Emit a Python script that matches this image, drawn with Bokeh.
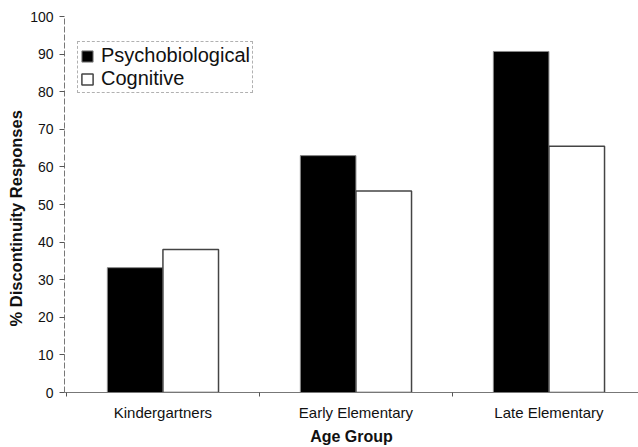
from bokeh.plotting import figure
from bokeh.models import Range1d, FixedTicker, Legend, LegendItem, Title
from bokeh.embed import file_html
from bokeh.resources import INLINE

groups = ["Kindergartners", "Early Elementary", "Late Elementary"]
series = ["Psychobiological", "Cognitive"]
psychobiological = [33.2, 63.0, 90.7]
cognitive = [38.0, 53.6, 65.5]
y_ticks = [0, 10, 20, 30, 40, 50, 60, 70, 80, 90, 100]

centers = [i + 0.5 for i in range(len(groups))]
bw = 0.288

p = figure(width=638, height=447, output_backend="svg", toolbar_location=None,
           x_range=Range1d(-0.01, 2.964), y_range=Range1d(0, 100),
           min_border_left=64, min_border_right=0, min_border_top=16, min_border_bottom=54)
p.outline_line_color = None
p.grid.grid_line_color = None
p.background_fill_color = "white"

r1 = p.vbar(x=[c - bw / 2 for c in centers], top=psychobiological, width=bw,
            fill_color="black", line_color="#888888", line_width=1)
r2 = p.vbar(x=[c + bw / 2 for c in centers], top=cognitive, width=bw,
            fill_color="white", line_color="#444444", line_width=1.5)

# y axis
ya = p.yaxis[0]
ya.ticker = FixedTicker(ticks=y_ticks)
ya.minor_tick_line_color = None
ya.major_tick_out = 5
ya.major_tick_in = 0
ya.axis_line_color = "#777777"
ya.axis_line_dash = "6 2"
ya.major_tick_line_color = "#555555"
ya.major_label_text_font = "Liberation Sans"
ya.major_label_text_font_size = "14px"
ya.major_label_text_color = "#111111"
ya.major_label_standoff = 6

ytitle = Title(text="% Discontinuity Responses", align="left", offset=66,
               text_font="Liberation Sans", text_font_style="bold",
               text_font_size="16.5px", text_color="#111111", standoff=5)
p.add_layout(ytitle, "left")

# x axis
xa = p.xaxis[0]
xa.ticker = FixedTicker(ticks=centers, minor_ticks=[0, 1, 2, 3])
xa.major_label_overrides = {c: g for c, g in zip(centers, groups)}
xa.major_tick_line_color = None
xa.major_tick_out = 0
xa.major_tick_in = 0
xa.minor_tick_out = 4
xa.minor_tick_in = 0
xa.minor_tick_line_color = "#555555"
xa.axis_line_color = "#777777"
xa.major_label_text_font = "Liberation Sans"
xa.major_label_text_font_size = "15px"
xa.major_label_text_color = "#111111"
xa.major_label_standoff = 7
xa.axis_label = "Age Group"
xa.axis_label_text_font = "Liberation Sans"
xa.axis_label_text_font_style = "bold"
xa.axis_label_text_font_size = "16px"
xa.axis_label_text_color = "#111111"
xa.axis_label_standoff = 4

legend = Legend(items=[LegendItem(label=series[0], renderers=[r1]),
                       LegendItem(label=series[1], renderers=[r2])],
                location=(13, 299))
legend.label_text_font = "Liberation Sans"
legend.label_text_font_size = "20px"
legend.label_text_color = "#111111"
legend.glyph_width = 14
legend.glyph_height = 14
legend.label_standoff = 7
legend.label_height = 16
legend.spacing = 0
legend.padding = 2
legend.margin = 0
legend.border_line_color = "#666666"
legend.border_line_dash = "5 3"
legend.border_line_width = 1
legend.background_fill_color = "white"
legend.background_fill_alpha = 1
p.add_layout(legend, "center")

open("out.html", "w").write(file_html(p, INLINE))
